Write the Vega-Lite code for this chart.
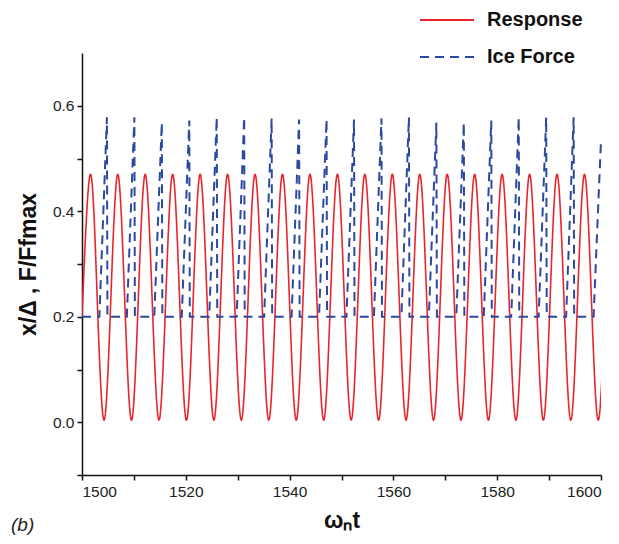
{
  "$schema": "https://vega.github.io/schema/vega-lite/v6.json",
  "width": 519,
  "height": 422,
  "autosize": "none",
  "padding": {"left": 82, "top": 53, "right": 18, "bottom": 69},
  "background": "white",
  "title": {"text": "(b)", "orient": "bottom", "anchor": "start", "frame": "group", "dx": -71, "offset": -17, "fontSize": 19, "fontStyle": "italic", "fontWeight": "normal", "font": "Liberation Sans", "color": "#222"},
  "config": {
    "view": {"stroke": null},
    "axis": {"grid": false, "domainColor": "#111", "domainWidth": 1.5, "tickColor": "#111", "tickWidth": 1.5, "tickSize": 5, "labelFont": "Liberation Sans", "labelFontSize": 15.5, "labelColor": "#222", "titleFont": "Liberation Sans", "titleFontWeight": "bold", "titleFontSize": 23, "titleColor": "#111"}
  },
  "datasets": {
    "response": [
      {"t": 1500.00, "v": 0.20, "series": "Response"},
      {"t": 1501.60, "v": 0.47, "series": "Response"},
      {"t": 1502.92, "v": 0.237, "series": "Response"},
      {"t": 1504.25, "v": 0.004, "series": "Response"},
      {"t": 1505.57, "v": 0.237, "series": "Response"},
      {"t": 1506.89, "v": 0.47, "series": "Response"},
      {"t": 1508.21, "v": 0.237, "series": "Response"},
      {"t": 1509.54, "v": 0.004, "series": "Response"},
      {"t": 1510.86, "v": 0.237, "series": "Response"},
      {"t": 1512.18, "v": 0.47, "series": "Response"},
      {"t": 1513.50, "v": 0.237, "series": "Response"},
      {"t": 1514.83, "v": 0.004, "series": "Response"},
      {"t": 1516.15, "v": 0.237, "series": "Response"},
      {"t": 1517.47, "v": 0.47, "series": "Response"},
      {"t": 1518.79, "v": 0.237, "series": "Response"},
      {"t": 1520.12, "v": 0.004, "series": "Response"},
      {"t": 1521.44, "v": 0.237, "series": "Response"},
      {"t": 1522.76, "v": 0.47, "series": "Response"},
      {"t": 1524.08, "v": 0.237, "series": "Response"},
      {"t": 1525.41, "v": 0.004, "series": "Response"},
      {"t": 1526.73, "v": 0.237, "series": "Response"},
      {"t": 1528.05, "v": 0.47, "series": "Response"},
      {"t": 1529.37, "v": 0.237, "series": "Response"},
      {"t": 1530.70, "v": 0.004, "series": "Response"},
      {"t": 1532.02, "v": 0.237, "series": "Response"},
      {"t": 1533.34, "v": 0.47, "series": "Response"},
      {"t": 1534.66, "v": 0.237, "series": "Response"},
      {"t": 1535.99, "v": 0.004, "series": "Response"},
      {"t": 1537.31, "v": 0.237, "series": "Response"},
      {"t": 1538.63, "v": 0.47, "series": "Response"},
      {"t": 1539.95, "v": 0.237, "series": "Response"},
      {"t": 1541.28, "v": 0.004, "series": "Response"},
      {"t": 1542.60, "v": 0.237, "series": "Response"},
      {"t": 1543.92, "v": 0.47, "series": "Response"},
      {"t": 1545.24, "v": 0.237, "series": "Response"},
      {"t": 1546.57, "v": 0.004, "series": "Response"},
      {"t": 1547.89, "v": 0.237, "series": "Response"},
      {"t": 1549.21, "v": 0.47, "series": "Response"},
      {"t": 1550.53, "v": 0.237, "series": "Response"},
      {"t": 1551.86, "v": 0.004, "series": "Response"},
      {"t": 1553.18, "v": 0.237, "series": "Response"},
      {"t": 1554.50, "v": 0.47, "series": "Response"},
      {"t": 1555.82, "v": 0.237, "series": "Response"},
      {"t": 1557.15, "v": 0.004, "series": "Response"},
      {"t": 1558.47, "v": 0.237, "series": "Response"},
      {"t": 1559.79, "v": 0.47, "series": "Response"},
      {"t": 1561.11, "v": 0.237, "series": "Response"},
      {"t": 1562.44, "v": 0.004, "series": "Response"},
      {"t": 1563.76, "v": 0.237, "series": "Response"},
      {"t": 1565.08, "v": 0.47, "series": "Response"},
      {"t": 1566.40, "v": 0.237, "series": "Response"},
      {"t": 1567.73, "v": 0.004, "series": "Response"},
      {"t": 1569.05, "v": 0.237, "series": "Response"},
      {"t": 1570.37, "v": 0.47, "series": "Response"},
      {"t": 1571.69, "v": 0.237, "series": "Response"},
      {"t": 1573.02, "v": 0.004, "series": "Response"},
      {"t": 1574.34, "v": 0.237, "series": "Response"},
      {"t": 1575.66, "v": 0.47, "series": "Response"},
      {"t": 1576.98, "v": 0.237, "series": "Response"},
      {"t": 1578.31, "v": 0.004, "series": "Response"},
      {"t": 1579.63, "v": 0.237, "series": "Response"},
      {"t": 1580.95, "v": 0.47, "series": "Response"},
      {"t": 1582.27, "v": 0.237, "series": "Response"},
      {"t": 1583.60, "v": 0.004, "series": "Response"},
      {"t": 1584.92, "v": 0.237, "series": "Response"},
      {"t": 1586.24, "v": 0.47, "series": "Response"},
      {"t": 1587.56, "v": 0.237, "series": "Response"},
      {"t": 1588.89, "v": 0.004, "series": "Response"},
      {"t": 1590.21, "v": 0.237, "series": "Response"},
      {"t": 1591.53, "v": 0.47, "series": "Response"},
      {"t": 1592.85, "v": 0.237, "series": "Response"},
      {"t": 1594.18, "v": 0.004, "series": "Response"},
      {"t": 1595.50, "v": 0.237, "series": "Response"},
      {"t": 1596.82, "v": 0.47, "series": "Response"},
      {"t": 1598.14, "v": 0.237, "series": "Response"},
      {"t": 1599.47, "v": 0.004, "series": "Response"},
      {"t": 1600.79, "v": 0.237, "series": "Response"}
    ],
    "force": [
      {"t": 1500.00, "v": 0.2, "series": "Ice Force"},
      {"t": 1503.35, "v": 0.2, "series": "Ice Force"},
      {"t": 1504.80, "v": 0.578, "series": "Ice Force"},
      {"t": 1504.90, "v": 0.2, "series": "Ice Force"},
      {"t": 1508.64, "v": 0.2, "series": "Ice Force"},
      {"t": 1510.09, "v": 0.578, "series": "Ice Force"},
      {"t": 1510.19, "v": 0.2, "series": "Ice Force"},
      {"t": 1513.93, "v": 0.2, "series": "Ice Force"},
      {"t": 1515.38, "v": 0.568, "series": "Ice Force"},
      {"t": 1515.48, "v": 0.2, "series": "Ice Force"},
      {"t": 1519.22, "v": 0.2, "series": "Ice Force"},
      {"t": 1520.67, "v": 0.572, "series": "Ice Force"},
      {"t": 1520.77, "v": 0.2, "series": "Ice Force"},
      {"t": 1524.51, "v": 0.2, "series": "Ice Force"},
      {"t": 1525.96, "v": 0.578, "series": "Ice Force"},
      {"t": 1526.06, "v": 0.2, "series": "Ice Force"},
      {"t": 1529.80, "v": 0.2, "series": "Ice Force"},
      {"t": 1531.25, "v": 0.578, "series": "Ice Force"},
      {"t": 1531.35, "v": 0.2, "series": "Ice Force"},
      {"t": 1535.09, "v": 0.2, "series": "Ice Force"},
      {"t": 1536.54, "v": 0.576, "series": "Ice Force"},
      {"t": 1536.64, "v": 0.2, "series": "Ice Force"},
      {"t": 1540.38, "v": 0.2, "series": "Ice Force"},
      {"t": 1541.83, "v": 0.574, "series": "Ice Force"},
      {"t": 1541.93, "v": 0.2, "series": "Ice Force"},
      {"t": 1545.67, "v": 0.2, "series": "Ice Force"},
      {"t": 1547.12, "v": 0.574, "series": "Ice Force"},
      {"t": 1547.22, "v": 0.2, "series": "Ice Force"},
      {"t": 1550.96, "v": 0.2, "series": "Ice Force"},
      {"t": 1552.41, "v": 0.574, "series": "Ice Force"},
      {"t": 1552.51, "v": 0.2, "series": "Ice Force"},
      {"t": 1556.25, "v": 0.2, "series": "Ice Force"},
      {"t": 1557.70, "v": 0.576, "series": "Ice Force"},
      {"t": 1557.80, "v": 0.2, "series": "Ice Force"},
      {"t": 1561.54, "v": 0.2, "series": "Ice Force"},
      {"t": 1562.99, "v": 0.578, "series": "Ice Force"},
      {"t": 1563.09, "v": 0.2, "series": "Ice Force"},
      {"t": 1566.83, "v": 0.2, "series": "Ice Force"},
      {"t": 1568.28, "v": 0.568, "series": "Ice Force"},
      {"t": 1568.38, "v": 0.2, "series": "Ice Force"},
      {"t": 1572.12, "v": 0.2, "series": "Ice Force"},
      {"t": 1573.57, "v": 0.568, "series": "Ice Force"},
      {"t": 1573.67, "v": 0.2, "series": "Ice Force"},
      {"t": 1577.41, "v": 0.2, "series": "Ice Force"},
      {"t": 1578.86, "v": 0.572, "series": "Ice Force"},
      {"t": 1578.96, "v": 0.2, "series": "Ice Force"},
      {"t": 1582.70, "v": 0.2, "series": "Ice Force"},
      {"t": 1584.15, "v": 0.578, "series": "Ice Force"},
      {"t": 1584.25, "v": 0.2, "series": "Ice Force"},
      {"t": 1587.99, "v": 0.2, "series": "Ice Force"},
      {"t": 1589.44, "v": 0.578, "series": "Ice Force"},
      {"t": 1589.54, "v": 0.2, "series": "Ice Force"},
      {"t": 1593.28, "v": 0.2, "series": "Ice Force"},
      {"t": 1594.73, "v": 0.578, "series": "Ice Force"},
      {"t": 1594.83, "v": 0.2, "series": "Ice Force"},
      {"t": 1598.57, "v": 0.2, "series": "Ice Force"},
      {"t": 1600.00, "v": 0.535, "series": "Ice Force"}
    ]
  },
  "encoding": {
    "x": {"field": "t", "type": "quantitative", "scale": {"domain": [1500, 1600], "nice": false, "zero": false},
      "axis": {"title": "ωₙt", "values": [1500, 1510, 1520, 1530, 1540, 1550, 1560, 1570, 1580, 1590, 1600], "format": "d", "labelExpr": "datum.value % 20 == 0 ? datum.label : ''", "labelPadding": 4, "titlePadding": 10}},
    "y": {"field": "v", "type": "quantitative", "scale": {"domain": [-0.1, 0.7], "nice": false, "zero": false},
      "axis": {"title": "x/Δ ,  F/Ffmax", "values": [-0.1, 0, 0.1, 0.2, 0.3, 0.4, 0.5, 0.6], "format": ".1f", "labelExpr": "(datum.value > -0.05 && abs(round(datum.value * 10)) % 2 == 0) ? datum.label : ''", "labelPadding": 3, "titlePadding": 12}},
    "color": {"field": "series", "type": "nominal", "scale": {"domain": ["Response", "Ice Force"], "range": ["#e8252d", "#2b4a9f"]},
      "legend": {"title": null, "orient": "none", "legendX": 355, "legendY": -43, "symbolType": "M-3,0H3", "symbolSize": 324, "symbolStrokeWidth": 2, "labelFontSize": 20, "labelFontWeight": "bold", "labelFont": "Liberation Sans", "labelColor": "#111", "labelOffset": 30, "rowPadding": 17, "padding": 0}},
    "strokeDash": {"field": "series", "type": "nominal", "scale": {"domain": ["Response", "Ice Force"], "range": [[1, 0], [9, 6]]},
      "legend": {"title": null, "orient": "none", "legendX": 355, "legendY": -43, "symbolType": "M-3,0H3", "symbolSize": 324, "symbolStrokeWidth": 2, "labelFontSize": 20, "labelFontWeight": "bold", "labelFont": "Liberation Sans", "labelColor": "#111", "labelOffset": 30, "rowPadding": 17, "padding": 0}}
  },
  "layer": [
    {"data": {"name": "response"}, "mark": {"type": "line", "interpolate": "natural", "strokeWidth": 1.6, "clip": true}},
    {"data": {"name": "force"}, "mark": {"type": "line", "interpolate": "linear", "strokeWidth": 2}}
  ]
}
